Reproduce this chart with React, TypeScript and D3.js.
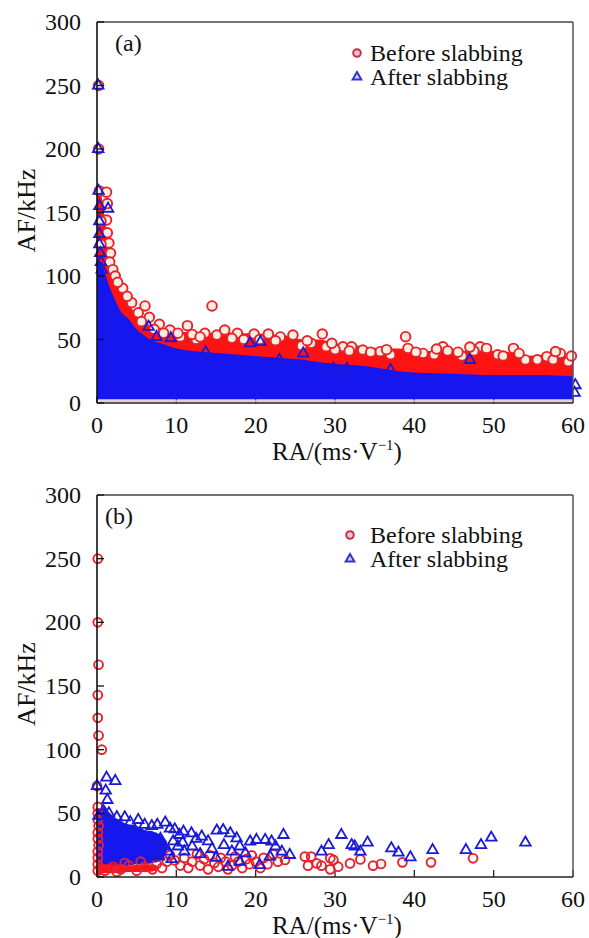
import React from 'react';
import * as d3 from 'd3';

// ---------- data ----------
const X_TICKS = [0, 10, 20, 30, 40, 50, 60];
const Y_TICKS = [0, 50, 100, 150, 200, 250, 300];
const SERIES = ['Before slabbing', 'After slabbing'];
const PANEL_LABELS = ['(a)', '(b)'];

// Panel (a): dense clouds as upper envelopes [RA, AF]
const A_RED_ENV: [number, number][] = [
  [0, 172], [0.3, 170], [0.6, 162], [1, 145], [1.3, 130], [1.6, 118], [2, 107], [2.5, 97], [3, 90],
  [3.5, 84], [4, 78], [5, 70], [6, 64], [7, 60], [8, 58], [10, 56], [12, 56], [14, 55], [16, 56],
  [18, 55], [20, 55], [22, 54], [24, 53], [26, 50], [28, 50], [30, 47], [32, 46], [34, 44], [36, 43],
  [38, 43], [40, 42], [42, 41], [44, 42], [46, 41], [48, 42], [50, 41], [52, 40], [54, 37], [56, 38],
  [58, 38], [60, 36],
];
const A_BLUE_ENV: [number, number][] = [
  [0, 112], [0.3, 112], [0.7, 108], [1, 102], [1.5, 93], [2, 85], [2.5, 78], [3, 72], [4, 66],
  [5, 58], [6, 53], [7, 49], [8, 47], [10, 43], [12, 41], [14, 40], [16, 39], [18, 38], [20, 37],
  [22, 36], [24, 35], [26, 34], [28, 32], [30, 31], [32, 30], [34, 29], [36, 27], [38, 25], [40, 24],
  [45, 23], [50, 22], [55, 22], [60, 21],
];
const A_RED_PTS: [number, number][] = [
  [0.2, 250], [0.2, 200], [0.3, 167], [1.2, 166], [1.3, 157], [1.2, 144], [1.3, 134], [1.5, 126],
  [1.7, 118], [1.6, 111], [2.0, 105], [2.3, 100], [0.5, 143], [0.5, 125],
  [3.24, 90.3], [4.37, 79], [6.05, 76.4], [6.6, 67.5], [7.86, 62], [9.2, 57.5], [11.4, 60.9],
  [14.5, 76.4], [13.6, 54.9], [15.1, 53.5], [16.1, 57.5], [17.7, 54.9], [19.8, 54.3], [21.6, 54.3],
  [23.1, 52], [24.7, 53.5], [27, 47], [28.4, 54.3], [28.9, 44.3], [31, 44.3], [32.1, 44.3],
  [33.5, 41.7], [35.7, 40.4], [38.9, 52.2], [39.2, 43], [41.1, 39], [43.6, 44.3], [44.2, 41],
  [48.3, 44.3], [49.1, 43], [52.5, 43], [54, 33.9], [56.7, 36.5], [58.4, 39], [59.4, 32.5],
  [10.5, 52], [12.5, 50], [18.5, 50], [25.8, 45], [30, 42], [37, 38], [46, 37], [50.5, 38], [55.5, 34],
  [2.6, 95], [3.8, 84], [5.2, 71], [5.6, 64], [7.2, 58], [8.4, 55], [10.2, 55], [12, 54], [13, 52],
  [17, 51], [20.5, 50], [22.5, 49], [26.5, 49], [29.6, 47], [31.8, 41], [34.5, 40], [36.5, 42],
  [40.2, 40], [42.5, 38], [45.5, 40], [47.5, 41], [51.2, 37], [53.2, 39], [57.5, 34], [59.8, 37],
  [42.8, 42.5], [47, 44], [57.8, 40.5],
];
const A_BLUE_PTS: [number, number][] = [
  [0.15, 250], [0.15, 200], [0.2, 167], [1.4, 153], [0.3, 155], [0.3, 143], [0.3, 133], [0.3, 125],
  [0.4, 118], [0.5, 111], [0.6, 105],
  [6.5, 60], [7.5, 52], [9.3, 51], [13.7, 40], [19.3, 47], [20.6, 48], [23, 34], [26, 39],
  [29.8, 27], [31.5, 27], [37, 26], [47, 33.9], [60.2, 8], [60.3, 14],
];

// Panel (b)
const B_BLUE_BAND: [number, number, number][] = [
  [0, 8, 48], [0.5, 7, 54], [1, 7, 55], [1.5, 7, 51], [2, 7, 48], [3, 8, 44], [4, 9, 41], [5, 10, 40],
  [6, 10, 37], [7, 11, 36], [8, 13, 33], [8.8, 18, 28],
];
const B_RED_BAND: [number, number, number][] = [
  [0, 2, 12], [1, 3, 10], [2, 3, 10], [4, 4, 9], [6, 4, 10], [7.5, 5, 9],
];
const B_RED_PTS: [number, number][] = [
  [0.1, 250], [0.1, 200], [0.2, 166.7], [0.1, 142.9], [0.1, 125], [0.2, 111.1], [0.6, 100], [0, 71.4],
  [0.1, 55], [0.1, 50], [0.1, 45], [0.2, 40], [0.1, 35], [0.1, 30], [0.2, 25], [0.1, 20], [0.1, 15],
  [0.1, 10], [0.1, 5],
  [1, 5], [2, 8], [3, 6], [4, 9], [5, 5], [6, 8], [7, 6], [7.5, 10], [5.5, 12], [3.5, 11], [2.5, 4],
  [8.2, 7], [8.8, 12],
  [9.2, 17], [9.8, 13], [10.5, 9], [11, 15], [11.5, 7], [12, 12], [12.6, 18], [13, 9], [13.5, 14],
  [14, 6], [14.2, 17], [14.8, 11], [15.3, 8], [15.6, 15], [16.2, 12], [16.5, 6], [17, 9], [17.4, 16],
  [17.8, 12], [18.3, 7], [18.8, 14], [19.2, 10], [19.5, 17], [20, 12], [20.6, 7], [21, 15], [21.5, 10],
  [22.2, 18], [22.8, 12],
  [23.7, 13.4], [26.2, 16], [26.6, 8.9], [27, 16], [27.7, 10.7], [28.3, 8.9], [29.4, 14.7], [29.4, 6],
  [29.8, 13.4], [30.4, 8.1], [31.9, 10.7], [33.2, 13.8], [34.8, 8.9], [35.8, 10.2], [38.5, 11.5],
  [42.1, 11.5], [47.4, 14.7],
];
const B_BLUE_PTS: [number, number][] = [
  [0, 71.5], [1.2, 78], [2.3, 75.4], [1.1, 67.8], [1.3, 60.5],
  [0.2, 48], [0.8, 52], [1.5, 50], [2.5, 47], [3.5, 46.9], [4.2, 43], [5.2, 44.8], [6, 41], [6.9, 40],
  [7.6, 41], [8.6, 42.7], [9.2, 38], [9.8, 37.4], [10.4, 33],
  [8, 30], [8.5, 24], [9, 20], [9.6, 28], [10.2, 24], [7.8, 16], [9.4, 14], [10.8, 27],
  [10.9, 35.6], [11.9, 34.3], [12.5, 30], [13.2, 31.7], [14, 28], [15.1, 36.4], [15.9, 36.9],
  [16.8, 34.3], [17.6, 30.4], [16, 25], [14.5, 22], [12, 24], [11, 20], [13, 18], [15, 15], [17, 20],
  [18, 24], [19.3, 27.8], [20.1, 29.1], [21.2, 29.1], [22, 27.8], [23.5, 33], [18.7, 18.6],
  [20.5, 9.4], [21.8, 16], [22.5, 24], [16.5, 8], [18, 12],
  [23.3, 19.9], [24.3, 17.3], [29.2, 25.1], [28.3, 19.9], [30.8, 33], [32.1, 25.1], [32.5, 24],
  [33.2, 19.9], [34.1, 27], [37.1, 22.5], [38, 19.1], [39.5, 15.5], [42.3, 21.2], [46.5, 21.2],
  [48.4, 25.1], [49.7, 30.9], [54, 27],
];

// ---------- layout ----------
const W = 589;
const H = 938;
const LEFT = 97;
const RIGHT = 573;
const FONT = "'Liberation Serif', 'Times New Roman', serif";
const RED = '#ff1212';
const BLUE = '#1616ee';
const RED_MK = '#e8222c';
const BLUE_MK = '#1a1ad8';

const triPath = (size: number) => d3.symbol().type(d3.symbolTriangle).size(size)() as string;

function Panel(props: {
  top: number;
  bottom: number;
  label: string;
  dense: boolean;
  redEnv?: [number, number][];
  blueEnv?: [number, number][];
  redBand?: [number, number, number][];
  blueBand?: [number, number, number][];
  redPts: [number, number][];
  bluePts: [number, number][];
}) {
  const { top, bottom, dense } = props;
  const x = d3.scaleLinear().domain([0, 60]).range([LEFT, RIGHT]);
  const y = d3.scaleLinear().domain([0, 300]).range([bottom, top]);
  const envArea = d3
    .area<[number, number]>()
    .x((d) => x(d[0]))
    .y0(y(3))
    .y1((d) => y(d[1]))
    .curve(d3.curveMonotoneX);
  const bandArea = d3
    .area<[number, number, number]>()
    .x((d) => x(d[0]))
    .y0((d) => y(d[1]))
    .y1((d) => y(d[2]))
    .curve(d3.curveMonotoneX);
  const tri = triPath(48);
  const circFill = dense ? '#fbeee0' : 'none';
  const midY = (top + bottom) / 2;
  const legX = dense ? 357 : 350;
  const leg1 = dense ? 53 : 535;
  const leg2 = leg1 + 24;
  return (
    <g>
      {X_TICKS.map((t) => (
        <line key={'xt' + t} x1={x(t)} x2={x(t)} y1={bottom} y2={bottom - 7} stroke="#222" strokeWidth={1.3} />
      ))}
      {props.redEnv && <path d={envArea(props.redEnv) as string} fill={RED} />}
      {props.blueEnv && <path d={envArea(props.blueEnv) as string} fill={BLUE} />}
      {props.blueBand && <path d={bandArea(props.blueBand) as string} fill={BLUE} />}
      {props.redBand && <path d={bandArea(props.redBand) as string} fill={RED} />}
      {dense && (
        <rect x={LEFT + 2} y={y(2.5)} width={RIGHT - LEFT - 2} height={y(0) - y(2.5) - 1} fill="#d8c4d4" opacity={0.8} />
      )}
      {props.redPts.map((d, i) => (
        <circle key={'r' + i} cx={x(d[0])} cy={y(d[1])} r={dense ? 4.8 : 4.4} fill={circFill} stroke={RED_MK} strokeWidth={1.9} />
      ))}
      {props.bluePts.map((d, i) => (
        <path key={'b' + i} d={tri} transform={`translate(${x(d[0])},${y(d[1])})`} fill="none" stroke={BLUE_MK} strokeWidth={1.8} />
      ))}
      {/* frame */}
      <line x1={LEFT} x2={RIGHT} y1={top} y2={top} stroke="#444" strokeWidth={1.5} />
      <line x1={RIGHT} x2={RIGHT} y1={top} y2={bottom} stroke="#555" strokeWidth={1.5} />
      <line x1={LEFT} x2={RIGHT} y1={bottom} y2={bottom} stroke="#222" strokeWidth={1.5} />
      <line x1={LEFT} x2={LEFT} y1={top} y2={bottom} stroke="#111" strokeWidth={1.6} />
      {Y_TICKS.map((t) => (
        <g key={'yt' + t}>
          <line x1={LEFT} x2={LEFT + 7} y1={y(t)} y2={y(t)} stroke="#111" strokeWidth={1.3} />
          <text x={81} y={y(t) + 8} textAnchor="end" fontSize={24} fontFamily={FONT} fill="#111">
            {t}
          </text>
        </g>
      ))}
      {X_TICKS.map((t) => (
        <text key={'xl' + t} x={x(t)} y={bottom + 30} textAnchor="middle" fontSize={24} fontFamily={FONT} fill="#111">
          {t}
        </text>
      ))}
      <text x={(LEFT + RIGHT) / 2 + 2} y={bottom + 57} textAnchor="middle" fontSize={25} fontFamily={FONT} fill="#111">
        RA/(ms·V
        <tspan dy={-10} fontSize={15}>−1</tspan>
        <tspan dy={10}>)</tspan>
      </text>
      <text
        transform={`translate(35,${midY - 2}) rotate(-90)`}
        textAnchor="middle"
        fontSize={26}
        fontFamily={FONT}
        fill="#111"
      >
        AF/kHz
      </text>
      <text x={dense ? 115 : 105} y={top + 29} fontSize={24} fontFamily={FONT} fill="#111">
        {props.label}
      </text>
      {/* legend */}
      <g>
        <circle cx={legX} cy={leg1} r={3.8} fill="#f3c4cc" stroke="#c8304a" strokeWidth={2} />
        <path d={triPath(32)} transform={`translate(${legX},${leg2})`} fill="#d0d0ff" stroke="#3434cc" strokeWidth={2} />
        <text x={370} y={leg1 + 8} fontSize={24} fontFamily={FONT} fill="#111">
          {SERIES[0]}
        </text>
        <text x={370} y={leg2 + 8} fontSize={24} fontFamily={FONT} fill="#111">
          {SERIES[1]}
        </text>
      </g>
    </g>
  );
}

export default function App() {
  return (
    <svg width={W} height={H} style={{ position: 'absolute', left: 0, top: 0, background: '#fff' }}>
      <rect x={0} y={0} width={W} height={H} fill="#fff" />
      <Panel
        top={22}
        bottom={403}
        label={PANEL_LABELS[0]}
        dense={true}
        redEnv={A_RED_ENV}
        blueEnv={A_BLUE_ENV}
        redPts={A_RED_PTS}
        bluePts={A_BLUE_PTS}
      />
      <Panel
        top={495}
        bottom={877}
        label={PANEL_LABELS[1]}
        dense={false}
        blueBand={B_BLUE_BAND}
        redBand={B_RED_BAND}
        redPts={B_RED_PTS}
        bluePts={B_BLUE_PTS}
      />
    </svg>
  );
}
